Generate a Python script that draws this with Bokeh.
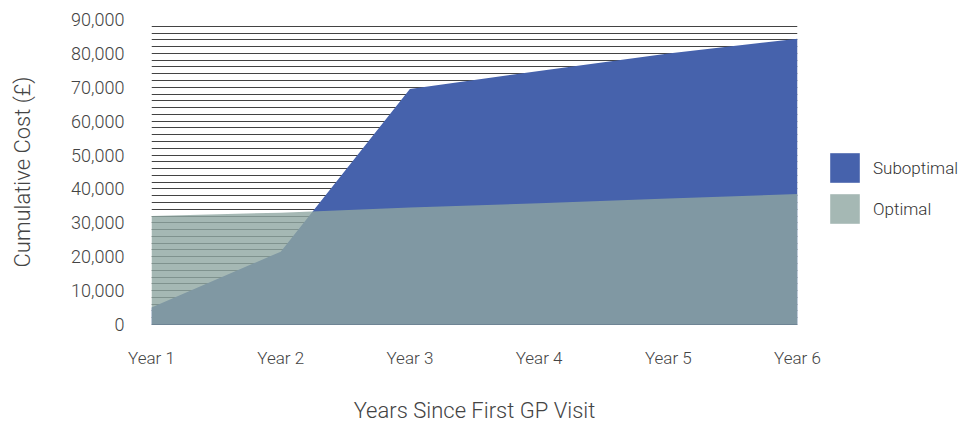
from bokeh.plotting import figure
from bokeh.models import (Range1d, SingleIntervalTicker, Legend, LegendItem,
                          NumeralTickFormatter, ColumnDataSource)
from bokeh.embed import file_html
from bokeh.resources import INLINE

# ---- data ----
years = [1, 2, 3, 4, 5, 6]
year_labels = ["Year 1", "Year 2", "Year 3", "Year 4", "Year 5", "Year 6"]
suboptimal = [5000, 21500, 69500, 74800, 80000, 84300]
optimal = [32000, 33000, 34500, 35800, 37200, 38500]
series_names = ["Suboptimal", "Optimal"]

FONT = "Roboto Light"
TXT = "#444444"

src = ColumnDataSource(dict(x=years, sub=suboptimal, opt=optimal,
                            zero=[0] * len(years)))

p = figure(frame_width=646, frame_height=305,
           output_backend="svg", toolbar_location=None,
           x_range=Range1d(1, 6), y_range=Range1d(0, 90000),
           min_border_left=151, min_border_right=161,
           min_border_top=19, min_border_bottom=90)
p.outline_line_color = None
p.background_fill_color = "white"

r_sub = p.varea(x="x", y1="zero", y2="sub", source=src,
                fill_color="#4662ac", fill_alpha=1.0)
r_opt = p.varea(x="x", y1="zero", y2="opt", source=src,
                fill_color="#8fa6a1", fill_alpha=0.8)

# grid
p.xgrid.visible = False
p.ygrid.ticker = SingleIntervalTicker(interval=2000, num_minor_ticks=0)
p.ygrid.grid_line_color = "#222222"
p.ygrid.grid_line_width = 1
p.ygrid.grid_line_alpha = 0.85

# y axis
ya = p.yaxis[0]
ya.ticker = SingleIntervalTicker(interval=10000, num_minor_ticks=0)
ya.formatter = NumeralTickFormatter(format="0,0")
ya.axis_line_color = None
ya.major_tick_line_color = None
ya.minor_tick_line_color = None
ya.major_label_text_font = FONT
ya.major_label_text_font_size = "18px"
ya.major_label_text_color = TXT
ya.major_label_standoff = 21
ya.axis_label = "Cumulative Cost (£)"
ya.axis_label_text_font = FONT
ya.axis_label_text_font_size = "22px"
ya.axis_label_text_font_style = "normal"
ya.axis_label_text_color = TXT
ya.axis_label_standoff = 33

# x axis
xa = p.xaxis[0]
xa.ticker = years
xa.major_label_overrides = {y: l for y, l in zip(years, year_labels)}
xa.axis_line_color = "#6e8494"
xa.major_tick_line_color = None
xa.minor_tick_line_color = None
xa.major_label_text_font = FONT
xa.major_label_text_font_size = "17px"
xa.major_label_text_color = TXT
xa.major_label_standoff = 17
xa.axis_label = "Years Since First GP Visit"
xa.axis_label_text_font = FONT
xa.axis_label_text_font_size = "22px"
xa.axis_label_text_font_style = "normal"
xa.axis_label_text_color = TXT
xa.axis_label_standoff = 27

legend = Legend(items=[LegendItem(label=series_names[0], renderers=[r_sub]),
                       LegendItem(label=series_names[1], renderers=[r_opt])],
                location=(29, 97), orientation="vertical",
                glyph_width=37, glyph_height=37, spacing=4,
                padding=0, margin=0, label_standoff=10,
                label_text_font=FONT, label_text_font_size="17px",
                label_text_color="#333333", border_line_color=None,
                background_fill_alpha=0)
p.add_layout(legend, "right")

open("out.html", "w").write(file_html(p, INLINE))
